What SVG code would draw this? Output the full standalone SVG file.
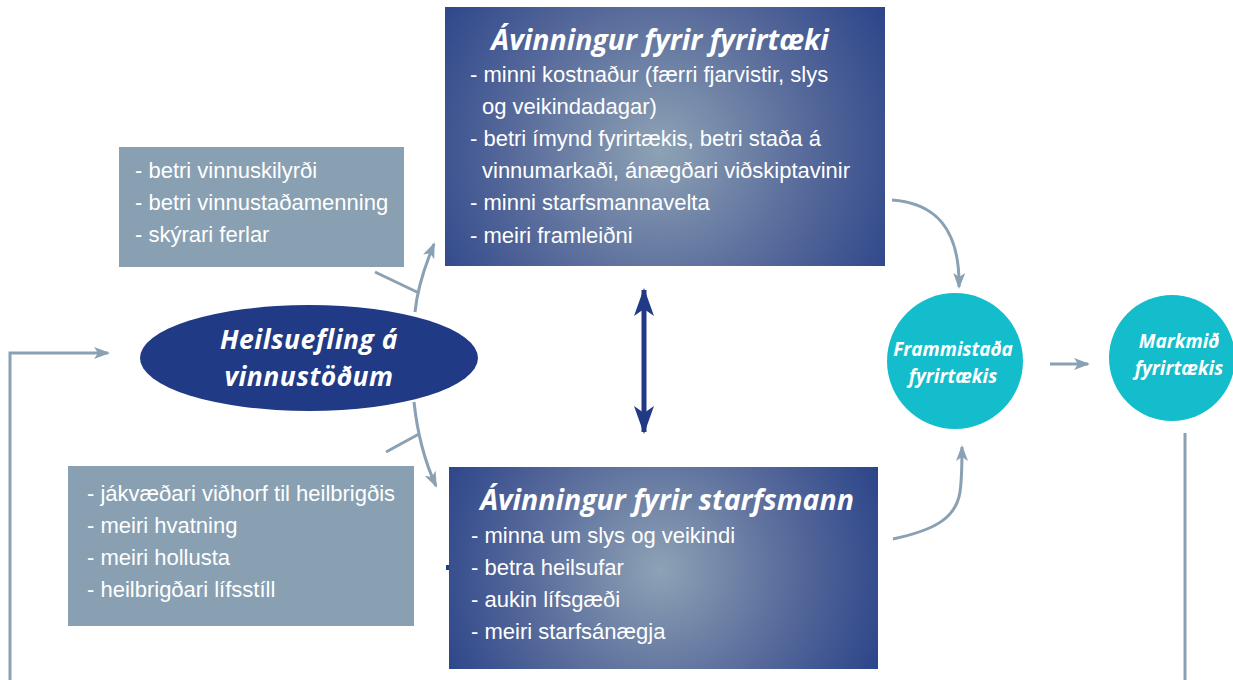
<svg xmlns="http://www.w3.org/2000/svg" width="1233" height="680" viewBox="0 0 1233 680">
  <defs>
    <radialGradient id="gTop" cx="660" cy="150" r="300" gradientUnits="userSpaceOnUse">
      <stop offset="0" stop-color="#8ea2b5"/>
      <stop offset="0.5" stop-color="#56699a"/>
      <stop offset="1" stop-color="#203a85"/>
    </radialGradient>
    <radialGradient id="gBot" cx="660" cy="570" r="270" gradientUnits="userSpaceOnUse">
      <stop offset="0" stop-color="#8ea2b5"/>
      <stop offset="0.5" stop-color="#56699a"/>
      <stop offset="1" stop-color="#203a85"/>
    </radialGradient>
    <marker id="ag" markerUnits="userSpaceOnUse" markerWidth="18" markerHeight="14" refX="14" refY="7" orient="auto">
      <path d="M0,1 L16,7 L0,13 L4,7 z" fill="#8aa0b3"/>
    </marker>
    <marker id="an" markerUnits="userSpaceOnUse" markerWidth="30" markerHeight="22" refX="26" refY="11" orient="auto-start-reverse">
      <path d="M0,1 L28,11 L0,21 L7,11 z" fill="#213a85"/>
    </marker>
    <style>
      .grey { fill: #88a0b2; }
      .body { font-family: "Liberation Sans", Arial, sans-serif; font-size: 22px; fill: #ffffff; }
      .title { font-family: "Open Sans", "Noto Sans", sans-serif; font-weight: bold; font-style: italic; fill: #ffffff; }
      .conn { fill: none; stroke: #8aa0b3; stroke-width: 3; }
    </style>
  </defs>

  <g id="connectors">
    <polyline class="conn" points="10,680 10,353 108,353" marker-end="url(#ag)"/>
    <path class="conn" d="M415,312 C417,292 424,268 434,244" marker-end="url(#ag)"/>
    <line class="conn" x1="375" y1="272" x2="419" y2="293"/>
    <path class="conn" d="M414,402 C417,430 424,460 436,486" marker-end="url(#ag)"/>
    <line class="conn" x1="386" y1="452" x2="419" y2="434"/>
    <line x1="644" y1="290" x2="644" y2="432" stroke="#213a85" stroke-width="5" marker-start="url(#an)" marker-end="url(#an)"/>
    <path class="conn" d="M892,200 C935,203 960,228 959,287" marker-end="url(#ag)"/>
    <path class="conn" d="M893,539 C935,530 956,518 960,492 C962,478 962,462 962,447" marker-end="url(#ag)"/>
    <line class="conn" x1="1050" y1="364" x2="1088" y2="364" marker-end="url(#ag)"/>
    <line class="conn" x1="1185" y1="433" x2="1185" y2="680"/>
  </g>

  <g id="box-organisation">
    <rect class="grey" x="119" y="147" width="285" height="120"/>
    <text class="body" x="135" y="178">- betri vinnuskilyrði</text>
    <text class="body" x="135" y="210">- betri vinnustaðamenning</text>
    <text class="body" x="135" y="242">- skýrari ferlar</text>
  </g>

  <g id="box-attitude">
    <rect class="grey" x="68" y="466" width="346" height="160"/>
    <text class="body" x="87" y="501">- jákvæðari viðhorf til heilbrigðis</text>
    <text class="body" x="87" y="533">- meiri hvatning</text>
    <text class="body" x="87" y="565">- meiri hollusta</text>
    <text class="body" x="87" y="597">- heilbrigðari lífsstíll</text>
  </g>

  <g id="node-heilsuefling">
    <ellipse cx="309" cy="358" rx="169" ry="53" fill="#213a85"/>
    <text class="title" x="309" y="349" font-size="26.5" letter-spacing="0.5" text-anchor="middle">Heilsuefling á</text>
    <text class="title" x="309" y="386" font-size="26.5" letter-spacing="0.5" text-anchor="middle">vinnustöðum</text>
  </g>

  <g id="node-fyrirtaeki">
    <rect x="445" y="7" width="440" height="259" fill="url(#gTop)"/>
    <text class="title" x="660" y="50" font-size="28.5" text-anchor="middle">Ávinningur fyrir fyrirtæki</text>
    <text class="body" x="470" y="82">- minni kostnaður (færri fjarvistir, slys</text>
    <text class="body" x="482" y="114">og veikindadagar)</text>
    <text class="body" x="470" y="146">- betri ímynd fyrirtækis, betri staða á</text>
    <text class="body" x="482" y="178">vinnumarkaði, ánægðari viðskiptavinir</text>
    <text class="body" x="470" y="210">- minni starfsmannavelta</text>
    <text class="body" x="470" y="243">- meiri framleiðni</text>
  </g>

  <g id="node-starfsmann">
    <rect x="449" y="467" width="429" height="202" fill="url(#gBot)"/>
    <rect x="446" y="565" width="3" height="5" fill="#213a85"/>
    <text class="title" x="667" y="510" font-size="28.5" text-anchor="middle">Ávinningur fyrir starfsmann</text>
    <text class="body" x="471" y="543">- minna um slys og veikindi</text>
    <text class="body" x="471" y="575">- betra heilsufar</text>
    <text class="body" x="471" y="607">- aukin lífsgæði</text>
    <text class="body" x="471" y="639">- meiri starfsánægja</text>
  </g>

  <g id="node-frammistada">
    <circle cx="955" cy="361" r="68" fill="#13bdcc"/>
    <text class="title" x="953" y="356" font-size="19" text-anchor="middle">Frammistaða</text>
    <text class="title" x="953" y="383" font-size="19" text-anchor="middle">fyrirtækis</text>
  </g>

  <g id="node-markmid">
    <circle cx="1172" cy="358" r="63" fill="#13bdcc"/>
    <text class="title" x="1179" y="348" font-size="19" text-anchor="middle">Markmið</text>
    <text class="title" x="1179" y="375" font-size="19" text-anchor="middle">fyrirtækis</text>
  </g>
</svg>
